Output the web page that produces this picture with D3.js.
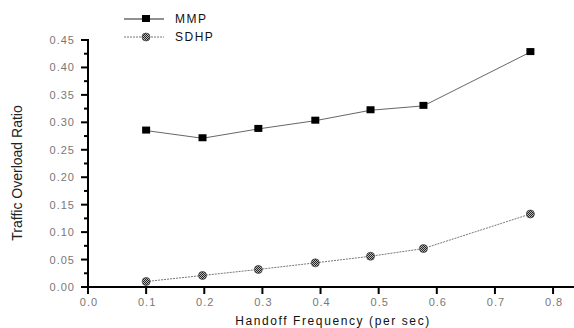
<!DOCTYPE html>
<html>
<head>
<meta charset="utf-8">
<script src="https://cdn.jsdelivr.net/npm/d3@7"></script>
<style>
  body { margin: 0; background: white; }
  text { font-family: "Liberation Sans", Arial, sans-serif; }
</style>
</head>
<body>
<svg id="chart"></svg>
<script>
// data
var freq = [0.1, 0.197, 0.293, 0.391, 0.486, 0.577, 0.761];
var mmp  = [0.285, 0.271, 0.288, 0.303, 0.322, 0.330, 0.428];
var sdhp = [0.010, 0.021, 0.032, 0.044, 0.056, 0.070, 0.133];
var seriesNames = ["MMP", "SDHP"];
var xTicks = [0, 0.1, 0.2, 0.3, 0.4, 0.5, 0.6, 0.7, 0.8];
var yTicks = [0, 0.05, 0.1, 0.15, 0.2, 0.25, 0.3, 0.35, 0.4, 0.45];

var W = 574, H = 328;
var svg = d3.select("#chart").attr("width", W).attr("height", H);

var x = d3.scaleLinear().domain([0, 0.836]).range([88, 574]);
var y = d3.scaleLinear().domain([0, 0.45]).range([287, 40]);

// crosshatch pattern for the round markers
var defs = svg.append("defs");
var pat = defs.append("pattern").attr("id", "hatch")
  .attr("patternUnits", "userSpaceOnUse").attr("width", 2).attr("height", 2);
pat.append("rect").attr("width", 2).attr("height", 2).attr("fill", "#bbb");
pat.append("rect").attr("width", 1).attr("height", 1).attr("fill", "#222");
pat.append("rect").attr("x", 1).attr("y", 1).attr("width", 1).attr("height", 1).attr("fill", "#222");

// y axis
var yMinor = d3.range(0.025, 0.45, 0.05);
var gy = svg.append("g");
gy.append("line").attr("x1", 88).attr("x2", 88).attr("y1", y(0.45) - 1).attr("y2", y(0) + 1)
  .attr("stroke", "black").attr("stroke-width", 2);
gy.selectAll(".maj").data(yTicks).enter().append("line")
  .attr("x1", 81).attr("x2", 88).attr("y1", d => y(d)).attr("y2", d => y(d))
  .attr("stroke", "black").attr("stroke-width", 2);
gy.selectAll(".min").data(yMinor).enter().append("line")
  .attr("x1", 84).attr("x2", 88).attr("y1", d => y(d)).attr("y2", d => y(d))
  .attr("stroke", "black").attr("stroke-width", 2);
gy.selectAll("text").data(yTicks).enter().append("text")
  .attr("x", 75).attr("y", d => y(d) + 4)
  .attr("text-anchor", "end").attr("font-size", 11).attr("fill", "#777")
  .attr("letter-spacing", 1)
  .text(d => d3.format(".2f")(d));

// x axis
var gx = svg.append("g");
gx.append("line").attr("x1", 87).attr("x2", W).attr("y1", 287).attr("y2", 287)
  .attr("stroke", "black").attr("stroke-width", 2);
gx.selectAll(".maj").data(xTicks).enter().append("line")
  .attr("x1", d => x(d)).attr("x2", d => x(d)).attr("y1", 287).attr("y2", 294)
  .attr("stroke", "black").attr("stroke-width", 2);
gx.selectAll("text").data(xTicks).enter().append("text")
  .attr("x", d => x(d) + 1).attr("y", 306)
  .attr("text-anchor", "middle").attr("font-size", 11).attr("fill", "#777")
  .attr("letter-spacing", 1)
  .text(d => d3.format(".1f")(d));

// axis titles
svg.append("text")
  .attr("transform", "translate(22,173) rotate(-90)")
  .attr("text-anchor", "middle").attr("font-size", 14).attr("fill", "#222")
  .text("Traffic Overload Ratio");
svg.append("text")
  .attr("x", 333).attr("y", 325)
  .attr("text-anchor", "middle").attr("font-size", 12).attr("fill", "#111")
  .attr("letter-spacing", 1.6)
  .text("Handoff Frequency (per sec)");

var line = d3.line().x(d => x(d[0])).y(d => y(d[1]));
var mmpPts = freq.map((f, i) => [f, mmp[i]]);
var sdhpPts = freq.map((f, i) => [f, sdhp[i]]);

svg.append("path").datum(mmpPts).attr("d", line)
  .attr("fill", "none").attr("stroke", "#666").attr("stroke-width", 1);
svg.append("path").datum(sdhpPts).attr("d", line)
  .attr("fill", "none").attr("stroke", "#777").attr("stroke-width", 1)
  .attr("stroke-dasharray", "2,1");

svg.selectAll(".sq").data(mmpPts).enter().append("rect")
  .attr("x", d => x(d[0]) - 4).attr("y", d => y(d[1]) - 4)
  .attr("width", 8).attr("height", 7).attr("fill", "black");
svg.selectAll(".ci").data(sdhpPts).enter().append("circle")
  .attr("cx", d => x(d[0])).attr("cy", d => y(d[1])).attr("r", 4)
  .attr("fill", "url(#hatch)").attr("stroke", "#444").attr("stroke-width", 0.8);

// legend
var lg = svg.append("g");
lg.append("line").attr("x1", 124).attr("x2", 164).attr("y1", 19).attr("y2", 19)
  .attr("stroke", "#222").attr("stroke-width", 1);
lg.append("rect").attr("x", 142).attr("y", 15).attr("width", 8).attr("height", 7).attr("fill", "black");
lg.append("line").attr("x1", 124).attr("x2", 164).attr("y1", 37).attr("y2", 37)
  .attr("stroke", "#777").attr("stroke-width", 1).attr("stroke-dasharray", "2,1");
lg.append("circle").attr("cx", 146).attr("cy", 37).attr("r", 4)
  .attr("fill", "url(#hatch)").attr("stroke", "#444").attr("stroke-width", 0.8);
lg.selectAll("text").data(seriesNames).enter().append("text")
  .attr("x", 175).attr("y", (d, i) => 23 + i * 18)
  .attr("font-size", 12).attr("fill", "#111").attr("letter-spacing", 1.5)
  .text(d => d);
</script>
</body>
</html>
